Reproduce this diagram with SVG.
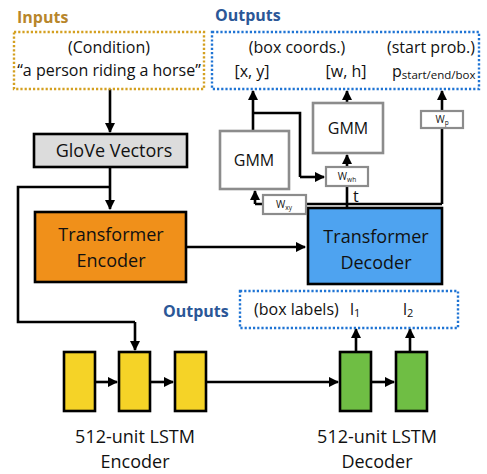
<svg xmlns="http://www.w3.org/2000/svg" width="487" height="474" viewBox="0 0 487 474">
<defs>
<marker id="ah" viewBox="0 0 10 10" refX="9" refY="5" markerWidth="4" markerHeight="4" orient="auto-start-reverse" markerUnits="strokeWidth">
<path d="M0,0 L10,5 L0,10 z" fill="#000"/>
</marker>
<style>
text{font-family:"Open Sans","Noto Sans",sans-serif;fill:#111;}
.lbl{font-size:16px;font-weight:bold;}
.box{stroke:#000;stroke-width:2.6;}
.gbox{fill:#fff;stroke:#8c8c8c;stroke-width:2.6;}
.wbox{fill:#fff;stroke:#8c8c8c;stroke-width:2.2;}
.dotY{fill:none;stroke:#d4a020;stroke-width:2.4;stroke-dasharray:2.2 2;}
.dotB{fill:none;stroke:#1f74d4;stroke-width:2.4;stroke-dasharray:2.2 2;}
.ln{fill:none;stroke:#000;stroke-width:2.6;}
.arr{fill:none;stroke:#000;stroke-width:2.6;marker-end:url(#ah);}
.t18{font-size:18px;text-anchor:middle;}
.t16{font-size:16px;}
.gmm{font-size:16px;text-anchor:middle;}
.w{font-size:10px;text-anchor:middle;}
</style>
</defs>

<g id="connectors">
<path class="arr" d="M110,89 L110,132"/>
<path class="arr" d="M110,167 L110,209"/>
<path class="ln" d="M110,187 L18,187 L18,322 L135,322"/>
<path class="arr" d="M135,322 L135,350"/>
<path class="arr" d="M186,247 L305,247"/>
<path class="ln" d="M347,208 L347,187"/>
<path class="arr" d="M347,167 L347,155"/>
<path class="arr" d="M347,103 L347,91"/>
<path class="arr" d="M253,131 L253,91"/>
<path class="ln" d="M253,113 L300,113 L300,177"/>
<path class="arr" d="M300,177 L324,177"/>
<path class="ln" d="M442,204 L255,204"/>
<path class="arr" d="M255,204 L255,191"/>
<path class="ln" d="M442,204 L442,128"/>
<path class="arr" d="M442,111 L442,91"/>
<path class="arr" d="M95,382 L117,382"/>
<path class="arr" d="M150,382 L173,382"/>
<path class="arr" d="M206,382 L338,382"/>
<path class="arr" d="M371,382 L394,382"/>
<path class="arr" d="M356,352 L356,329"/>
<path class="arr" d="M410,352 L410,329"/>
</g>

<g id="inputs">
<text class="lbl" x="17" y="23" style="fill:#b8862b">Inputs</text>
<rect class="dotY" x="14" y="32" width="190" height="57"/>
<text class="t16" x="109" y="53" text-anchor="middle">(Condition)</text>
<text class="t16" x="109" y="76" text-anchor="middle">“a person riding a horse”</text>
</g>

<g id="outputs-top">
<text class="lbl" x="215" y="21" style="fill:#2b5797">Outputs</text>
<rect class="dotB" x="212" y="32" width="267" height="57"/>
<text class="t16" x="297" y="53" text-anchor="middle">(box coords.)</text>
<text class="t16" x="431" y="53" text-anchor="middle">(start prob.)</text>
<text class="t16" x="252" y="77" text-anchor="middle">[x, y]</text>
<text class="t16" x="346" y="77" text-anchor="middle">[w, h]</text>
<text class="t16" x="392" y="77">p<tspan font-size="11.5" dy="2">start/end/box</tspan></text>
</g>

<g id="glove">
<rect class="box" x="34" y="134" width="153" height="33" fill="#dcdcdc"/>
<text class="t18" x="114" y="157">GloVe Vectors</text>
</g>

<g id="encoder">
<rect class="box" x="35" y="212" width="151" height="70" fill="#f0901a"/>
<text class="t18" x="111" y="241">Transformer</text>
<text class="t18" x="111" y="267">Encoder</text>
</g>

<g id="decoder">
<rect class="box" x="308" y="208" width="134" height="76" fill="#4ea3f0"/>
<text class="t18" x="376" y="243">Transformer</text>
<text class="t18" x="376" y="269">Decoder</text>
</g>

<g id="gmm-xy">
<rect class="gbox" x="220" y="131" width="69" height="58"/>
<text class="gmm" x="254" y="166">GMM</text>
</g>

<g id="gmm-wh">
<rect class="gbox" x="313" y="103" width="70" height="50"/>
<text class="gmm" x="348" y="134">GMM</text>
</g>

<g id="w-wh">
<rect class="wbox" x="326" y="167" width="42" height="19"/>
<text class="w" x="347" y="180">W<tspan font-size="6.5" dy="1.5">wh</tspan></text>
</g>
<text x="353" y="202" style="font-size:16px">t</text>

<g id="w-xy">
<rect class="wbox" x="263" y="195" width="43" height="19"/>
<text class="w" x="284" y="208">W<tspan font-size="6.5" dy="1.5">xy</tspan></text>
</g>

<g id="w-p">
<rect class="wbox" x="421" y="111" width="42" height="17"/>
<text class="w" x="442" y="123">W<tspan font-size="6.5" dy="1.5">p</tspan></text>
</g>

<g id="lstm-enc">
<rect class="box" x="64" y="352" width="31" height="59" fill="#f5d327"/>
<rect class="box" x="119" y="352" width="31" height="59" fill="#f5d327"/>
<rect class="box" x="175" y="352" width="31" height="59" fill="#f5d327"/>
<text class="t18" x="135" y="443">512-unit LSTM</text>
<text class="t18" x="135" y="468">Encoder</text>
</g>

<g id="lstm-dec">
<rect class="box" x="340" y="352" width="31" height="59" fill="#6fbe44"/>
<rect class="box" x="396" y="352" width="31" height="59" fill="#6fbe44"/>
<text class="t18" x="377" y="443">512-unit LSTM</text>
<text class="t18" x="377" y="468">Decoder</text>
</g>

<g id="outputs-bottom">
<text class="lbl" x="163" y="317" style="fill:#2b5797">Outputs</text>
<rect class="dotB" x="240" y="291" width="218" height="37"/>
<text class="t16" x="254" y="315">(box labels)</text>
<text class="t16" x="350" y="315">l<tspan font-size="11" dy="2">1</tspan></text>
<text class="t16" x="403" y="315">l<tspan font-size="11" dy="2">2</tspan></text>
</g>
</svg>
